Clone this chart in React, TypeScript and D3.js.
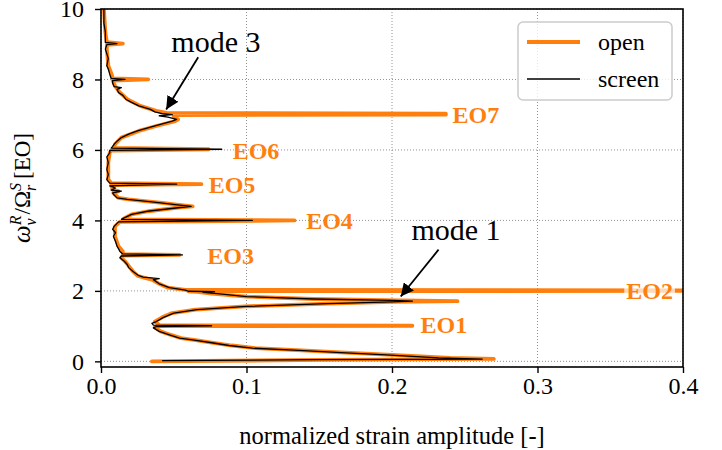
import { useEffect, useRef } from "react";
import * as d3 from "d3";

// frequency [EO] and amplitude samples
const openFreq = [
  0.0, 0.04, 0.07, 0.1, 0.185, 0.25, 0.31, 0.375, 0.45, 0.535, 0.6, 0.66, 0.75, 0.85, 0.97, 1.0, 1.01, 1.03,
  1.13, 1.25, 1.37, 1.47, 1.56, 1.64, 1.69, 1.71, 1.73, 1.77, 1.84, 1.92, 1.97, 1.99, 2.0, 2.01, 2.03, 2.09,
  2.2, 2.32, 2.37, 2.43, 2.55, 2.66, 2.84, 2.94, 3.0, 3.02, 3.04, 3.12, 3.27, 3.55, 3.83, 3.96, 4.0, 4.03,
  4.07, 4.17, 4.26, 4.36, 4.4, 4.45, 4.5, 4.55, 4.6, 4.64, 4.78, 4.83, 4.87, 5.0, 5.03, 5.06, 5.16, 5.64,
  5.92, 5.98, 6.02, 6.06, 6.16, 6.35, 6.54, 6.68, 6.82, 6.87, 6.95, 6.99, 7.0, 7.03, 7.05, 7.11, 7.25, 7.44,
  7.63, 7.82, 7.97, 8.0, 8.03, 8.15, 8.39, 8.86, 8.98, 9.02, 9.06, 9.34, 10.0,
];
const openAmp = [
  0.035, 0.15, 0.27, 0.24, 0.2, 0.168, 0.138, 0.106, 0.09, 0.076, 0.065, 0.055, 0.048, 0.041, 0.037, 0.04, 0.214, 0.04,
  0.037, 0.042, 0.049, 0.065, 0.099, 0.156, 0.2, 0.245, 0.205, 0.146, 0.1, 0.076, 0.066, 0.06, 0.42, 0.42, 0.058, 0.046,
  0.04, 0.035, 0.03, 0.025, 0.022, 0.02, 0.0165, 0.014, 0.015, 0.054, 0.015, 0.015, 0.012, 0.0096, 0.0096, 0.013, 0.133, 0.015,
  0.0165, 0.021, 0.0325, 0.053, 0.063, 0.052, 0.042, 0.03, 0.019, 0.012, 0.0085, 0.012, 0.008, 0.007, 0.069, 0.007, 0.005, 0.005,
  0.006, 0.007, 0.074, 0.009, 0.0096, 0.014, 0.026, 0.038, 0.051, 0.053, 0.05, 0.05, 0.237, 0.237, 0.045, 0.038, 0.027, 0.018,
  0.013, 0.0096, 0.008, 0.0325, 0.008, 0.0073, 0.005, 0.004, 0.004, 0.015, 0.004, 0.003, 0.002,
];

const screenFreq = [
  0.02, 0.05, 0.065, 0.1, 0.185, 0.25, 0.31, 0.375, 0.45, 0.535, 0.6, 0.66, 0.75, 0.85, 0.95, 0.99, 1.01, 1.03,
  1.08, 1.13, 1.25, 1.37, 1.47, 1.56, 1.64, 1.69, 1.71, 1.73, 1.77, 1.84, 1.92, 1.96, 1.98, 1.99, 2.02, 2.09,
  2.2, 2.32, 2.35, 2.39, 2.43, 2.55, 2.66, 2.75, 2.84, 2.94, 2.99, 3.02, 3.05, 3.12, 3.2, 3.27, 3.4, 3.55,
  3.65, 3.75, 3.83, 3.96, 4.0, 4.03, 4.07, 4.17, 4.26, 4.36, 4.4, 4.45, 4.5, 4.55, 4.6, 4.64, 4.72, 4.78,
  4.83, 4.86, 4.92, 4.98, 5.03, 5.06, 5.16, 5.3, 5.45, 5.64, 5.8, 5.92, 5.99, 6.02, 6.05, 6.1, 6.16, 6.25,
  6.35, 6.45, 6.54, 6.68, 6.82, 6.87, 6.93, 6.97, 7.0, 7.03, 7.08, 7.15, 7.25, 7.35, 7.44, 7.55, 7.63, 7.72,
  7.77, 7.8, 7.9, 7.97, 8.0, 8.03, 8.15, 8.3, 8.39, 8.6, 8.86, 8.99, 9.02, 9.05, 9.34, 9.6, 10.0,
];
const screenAmp = [
  0.042, 0.15, 0.262, 0.232, 0.196, 0.165, 0.136, 0.104, 0.088, 0.075, 0.064, 0.054, 0.047, 0.04, 0.036, 0.038, 0.076, 0.036,
  0.035, 0.038, 0.043, 0.05, 0.066, 0.1, 0.156, 0.2, 0.214, 0.2, 0.146, 0.1, 0.08, 0.07, 0.078, 0.06, 0.058, 0.047,
  0.04, 0.036, 0.04, 0.029, 0.026, 0.022, 0.019, 0.018, 0.016, 0.013, 0.014, 0.056, 0.015, 0.013, 0.012, 0.011, 0.01, 0.0085,
  0.01, 0.008, 0.009, 0.012, 0.104, 0.014, 0.016, 0.021, 0.032, 0.053, 0.062, 0.051, 0.041, 0.03, 0.018, 0.011, 0.009, 0.008,
  0.014, 0.007, 0.01, 0.006, 0.052, 0.006, 0.004, 0.005, 0.004, 0.005, 0.004, 0.006, 0.006, 0.083, 0.007, 0.008, 0.009, 0.011,
  0.014, 0.019, 0.025, 0.037, 0.049, 0.052, 0.046, 0.04, 0.049, 0.042, 0.037, 0.034, 0.026, 0.021, 0.017, 0.015, 0.012, 0.011,
  0.014, 0.009, 0.008, 0.008, 0.0165, 0.007, 0.006, 0.005, 0.004, 0.005, 0.003, 0.004, 0.011, 0.003, 0.003, 0.002, 0.002,
];

const xTicks = [0, 0.1, 0.2, 0.3, 0.4];
const yTicks = [0, 2, 4, 6, 8, 10];

// engine order labels: name, x start, y
const eoNames = ["EO1", "EO2", "EO3", "EO4", "EO5", "EO6", "EO7"];
const eoX = [0.2196, 0.361, 0.073, 0.141, 0.074, 0.0905, 0.2416];
const eoY = [1.03, 2.0, 3.0, 3.99, 5.02, 5.98, 7.0];

// annotations: text, text pos, arrow tail, arrow tip
const modeNames = ["mode 3", "mode 1"];
const modeTextX = [0.079, 0.244];
const modeTextY = [8.77, 3.45];
const modeTailX = [0.0668, 0.232];
const modeTailY = [8.63, 3.17];
const modeTipX = [0.0448, 0.206];
const modeTipY = [7.15, 1.84];

const ORANGE = "#ff7f0e";
const FONT = "'Liberation Serif', 'Times New Roman', serif";

function App() {
  const ref = useRef<SVGSVGElement>(null);

  useEffect(() => {
    const W = 722;
    const H = 450;
    const m = { top: 9, right: 39, bottom: 83, left: 101 };
    const w = W - m.left - m.right;
    const h = H - m.top - m.bottom;

    const svg = d3.select(ref.current);
    svg.selectAll("*").remove();
    svg.attr("width", W).attr("height", H);

    const x = d3.scaleLinear().domain([0, 0.4]).range([0, w]);
    const y = d3.scaleLinear().domain([-0.16, 10]).range([h, 0]);

    const defs = svg.append("defs");
    defs.append("clipPath").attr("id", "plotclip").append("rect").attr("width", w).attr("height", h);
    defs
      .append("marker")
      .attr("id", "arrowhead")
      .attr("viewBox", "0 0 10 10")
      .attr("refX", 10)
      .attr("refY", 5)
      .attr("markerWidth", 13)
      .attr("markerHeight", 13)
      .attr("markerUnits", "userSpaceOnUse")
      .attr("orient", "auto")
      .append("path")
      .attr("d", "M0,0 L10,5 L0,10 z")
      .attr("fill", "black");

    const g = svg.append("g").attr("transform", `translate(${m.left},${m.top})`);

    // grid
    g.append("g")
      .selectAll("line")
      .data(xTicks)
      .join("line")
      .attr("x1", (d) => x(d))
      .attr("x2", (d) => x(d))
      .attr("y1", 0)
      .attr("y2", h)
      .attr("stroke", "#777")
      .attr("stroke-width", 0.8)
      .attr("stroke-dasharray", "1,2");
    g.append("g")
      .selectAll("line")
      .data(yTicks)
      .join("line")
      .attr("x1", 0)
      .attr("x2", w)
      .attr("y1", (d) => y(d))
      .attr("y2", (d) => y(d))
      .attr("stroke", "#777")
      .attr("stroke-width", 0.8)
      .attr("stroke-dasharray", "1,2");

    const line = d3
      .line<[number, number]>()
      .x((d) => x(d[1]))
      .y((d) => y(d[0]));

    const plot = g.append("g").attr("clip-path", "url(#plotclip)");
    plot
      .append("path")
      .datum(openFreq.map((f, i) => [f, openAmp[i]] as [number, number]))
      .attr("fill", "none")
      .attr("stroke", ORANGE)
      .attr("stroke-width", 3.8)
      .attr("stroke-linejoin", "round")
      .attr("stroke-linecap", "round")
      .attr("d", line);
    plot
      .append("path")
      .datum(screenFreq.map((f, i) => [f, screenAmp[i]] as [number, number]))
      .attr("fill", "none")
      .attr("stroke", "black")
      .attr("stroke-width", 1.3)
      .attr("stroke-linejoin", "round")
      .attr("d", line);

    // EO labels
    eoNames.forEach((name, i) => {
      const t = g
        .append("text")
        .attr("x", x(eoX[i]))
        .attr("y", y(eoY[i]))
        .attr("dy", "0.35em")
        .attr("font-family", FONT)
        .attr("font-weight", "bold")
        .attr("font-size", 24)
        .attr("fill", ORANGE)
        .text(name);
      if (name === "EO2") {
        const bb = (t.node() as SVGTextElement).getBBox();
        g.insert("rect", "text")
          .attr("x", bb.x - 2)
          .attr("y", bb.y + 2)
          .attr("width", bb.width + 4)
          .attr("height", bb.height - 4)
          .attr("fill", "white")
          .attr("opacity", 0.7);
      }
    });

    // annotations
    modeNames.forEach((name, i) => {
      g.append("line")
        .attr("x1", x(modeTailX[i]))
        .attr("y1", y(modeTailY[i]))
        .attr("x2", x(modeTipX[i]))
        .attr("y2", y(modeTipY[i]))
        .attr("stroke", "black")
        .attr("stroke-width", 1.8)
        .attr("marker-end", "url(#arrowhead)");
      g.append("text")
        .attr("x", x(modeTextX[i]))
        .attr("y", y(modeTextY[i]))
        .attr("text-anchor", "middle")
        .attr("font-family", FONT)
        .attr("font-size", 30)
        .text(name);
    });

    // frame
    g.append("rect")
      .attr("width", w)
      .attr("height", h)
      .attr("fill", "none")
      .attr("stroke", "black")
      .attr("stroke-width", 1.6);

    const xAxis = g
      .append("g")
      .attr("transform", `translate(0,${h})`)
      .call(d3.axisBottom(x).tickValues(xTicks).tickFormat(d3.format(".1f")).tickSize(6).tickPadding(4));
    const yAxis = g.append("g").call(d3.axisLeft(y).tickValues(yTicks).tickSize(6).tickPadding(11));
    [xAxis, yAxis].forEach((a) => {
      a.select(".domain").remove();
      a.selectAll("line").attr("stroke-width", 1.4);
      a.selectAll("text").attr("font-family", FONT).attr("font-size", 24).attr("fill", "black");
    });

    // axis labels
    g.append("text")
      .attr("x", w / 2)
      .attr("y", h + 77)
      .attr("text-anchor", "middle")
      .attr("font-family", FONT)
      .attr("font-size", 24.5)
      .text("normalized strain amplitude [-]");

    const yl = g
      .append("text")
      .attr("transform", `translate(${-71},${h / 2}) rotate(-90)`)
      .attr("text-anchor", "middle")
      .attr("font-family", FONT)
      .attr("font-size", 23);
    yl.append("tspan").attr("font-style", "italic").attr("font-size", 25).text("ω");
    yl.append("tspan").attr("font-style", "italic").attr("font-size", 16).attr("dy", -9).text("R");
    yl.append("tspan").attr("font-style", "italic").attr("font-size", 16).attr("dx", -10).attr("dy", 15).text("v");
    yl.append("tspan").attr("dx", 4).attr("dy", -6).text("/Ω");
    yl.append("tspan").attr("font-style", "italic").attr("font-size", 16).attr("dy", -9).text("S");
    yl.append("tspan").attr("font-style", "italic").attr("font-size", 16).attr("dx", -8).attr("dy", 15).text("r");
    yl.append("tspan").attr("dy", -6).text(" [EO]");

    // legend
    const lg = g.append("g").attr("transform", `translate(${w - 165},13)`);
    lg.append("rect")
      .attr("width", 154)
      .attr("height", 78)
      .attr("rx", 5)
      .attr("fill", "white")
      .attr("fill-opacity", 0.8)
      .attr("stroke", "#cccccc")
      .attr("stroke-width", 1.5);
    const items = [
      { label: "open", color: ORANGE, width: 3.8 },
      { label: "screen", color: "black", width: 1.3 },
    ];
    items.forEach((it, i) => {
      const yy = 20 + i * 37;
      lg.append("line")
        .attr("x1", 9)
        .attr("x2", 62)
        .attr("y1", yy)
        .attr("y2", yy)
        .attr("stroke", it.color)
        .attr("stroke-width", it.width);
      lg.append("text")
        .attr("x", 80)
        .attr("y", yy)
        .attr("dy", "0.33em")
        .attr("font-family", FONT)
        .attr("font-size", 24)
        .text(it.label);
    });
  }, []);

  return (
    <svg ref={ref} style={{ position: "absolute", left: 0, top: 0 }}></svg>
  );
}

export default App;
